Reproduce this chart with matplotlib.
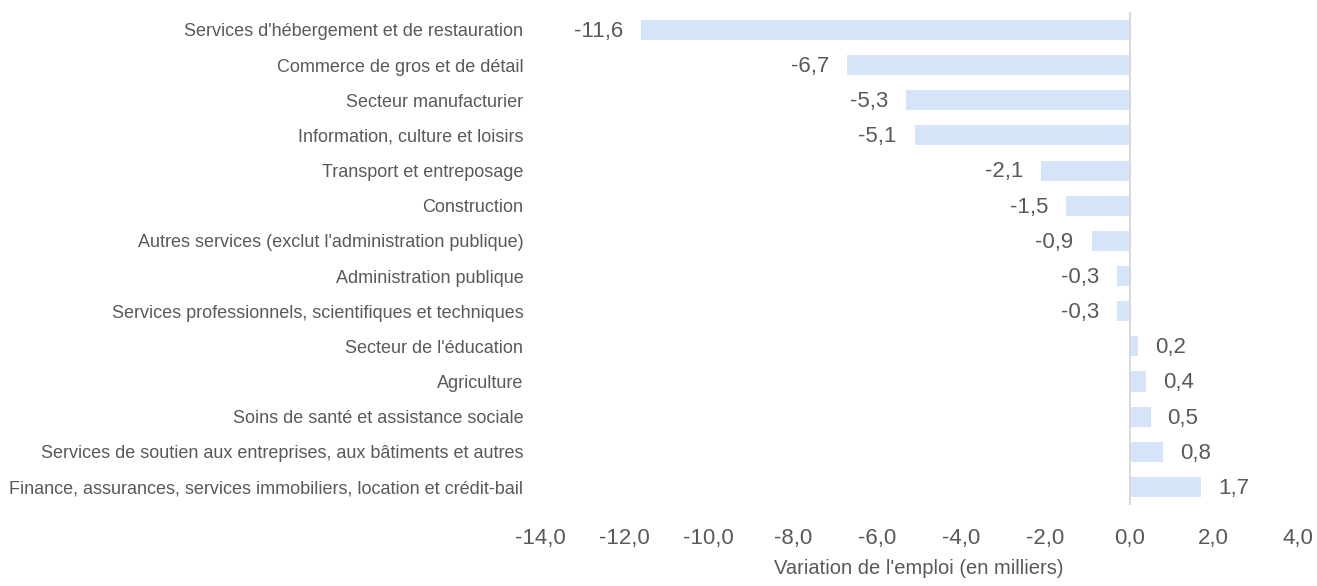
import matplotlib.pyplot as plt
from matplotlib.ticker import FuncFormatter

plt.rcParams['font.family'] = ['Liberation Sans', 'DejaVu Sans']

# Employment change by industry (thousands)
secteurs = [
    "Services d'hébergement et de restauration",
    "Commerce de gros et de détail",
    "Secteur manufacturier",
    "Information, culture et loisirs",
    "Transport et entreposage",
    "Construction",
    "Autres services (exclut l'administration publique)",
    "Administration publique",
    "Services professionnels, scientifiques et techniques",
    "Secteur de l'éducation",
    "Agriculture",
    "Soins de santé et assistance sociale",
    "Services de soutien aux entreprises, aux bâtiments et autres",
    "Finance, assurances, services immobiliers, location et crédit-bail",
]
variation = [-11.6, -6.7, -5.3, -5.1, -2.1, -1.5, -0.9, -0.3, -0.3,
             0.2, 0.4, 0.5, 0.8, 1.7]
x_ticks = [-14, -12, -10, -8, -6, -4, -2, 0, 2, 4]

text_color = '#595959'
bar_color = '#D6E4FA'


def fr(v, pos=None):
    return f"{v:.1f}".replace('.', ',')


fig = plt.figure(figsize=(13.17, 5.86), dpi=100)
ax = fig.add_axes([0.410, 0.139, 0.5756, 0.84])

y = list(range(len(secteurs)))
ax.barh(y, variation, height=0.57, color=bar_color, zorder=2)
ax.set_ylim(len(secteurs) - 0.5, -0.5)
ax.set_xlim(-14, 4)

for yi, v in zip(y, variation):
    if v < 0:
        ax.annotate(fr(v), (v, yi), xytext=(-13, -1), textcoords='offset points',
                    ha='right', va='center', fontsize=16, color=text_color)
    else:
        ax.annotate(fr(v), (v, yi), xytext=(12, -1), textcoords='offset points',
                    ha='left', va='center', fontsize=16, color=text_color)

ax.axvline(0, color='#D9D9D9', linewidth=1.5, zorder=3)

ax.set_yticks(y)
ax.set_yticklabels(secteurs, fontsize=13, color=text_color)
ax.set_xticks(x_ticks)
ax.xaxis.set_major_formatter(FuncFormatter(fr))
ax.tick_params(axis='x', labelsize=16, colors=text_color, length=0, pad=17)
ax.tick_params(axis='y', length=0, pad=12)
ax.set_xlabel("Variation de l'emploi (en milliers)", fontsize=14.5,
              color=text_color, labelpad=7)

for s in ax.spines.values():
    s.set_visible(False)

fig.savefig('out.png', dpi=100)
